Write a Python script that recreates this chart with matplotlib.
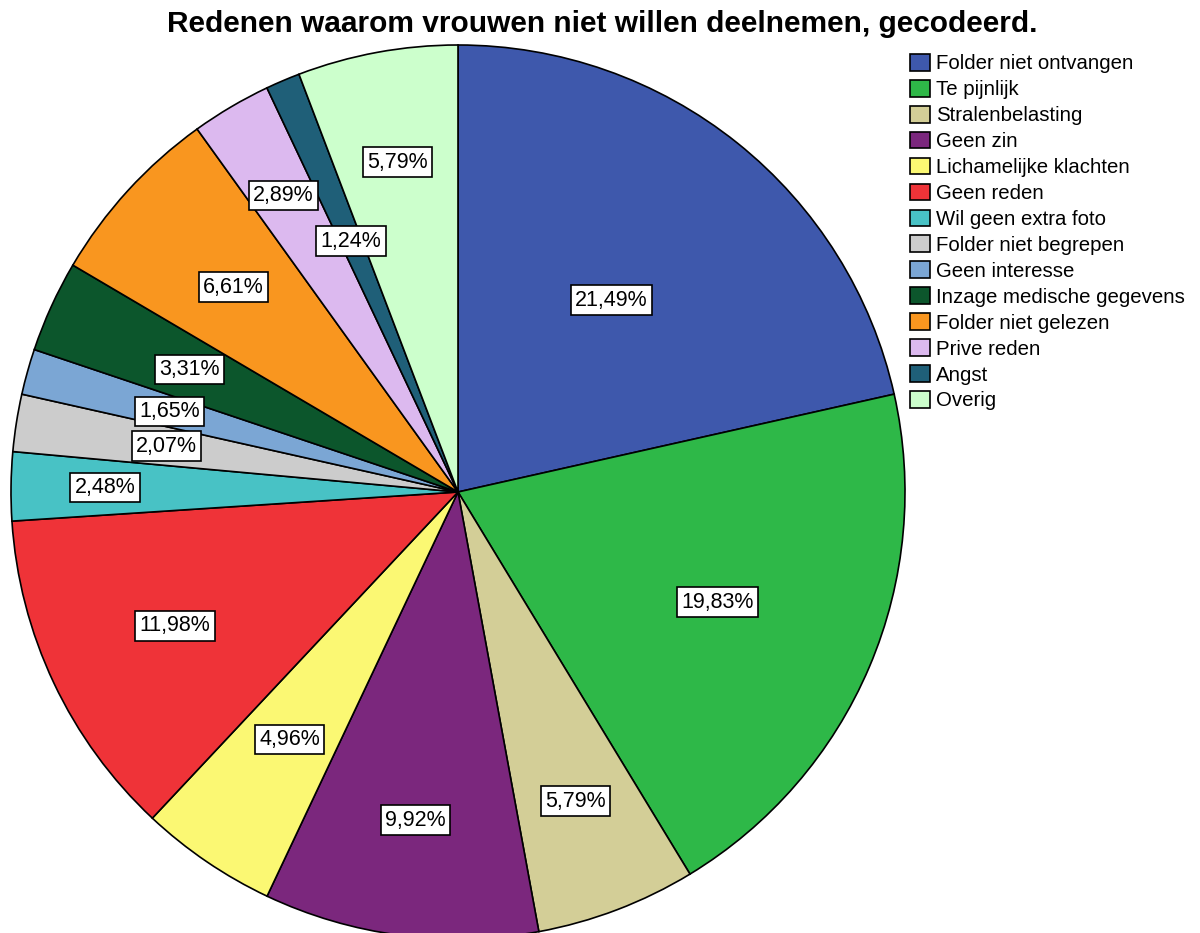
import matplotlib
matplotlib.use("Agg")
import matplotlib.pyplot as plt
import numpy as np

plt.rcParams['font.family'] = ['Liberation Sans', 'DejaVu Sans']

categories = ["Folder niet ontvangen", "Te pijnlijk", "Stralenbelasting", "Geen zin",
              "Lichamelijke klachten", "Geen reden", "Wil geen extra foto",
              "Folder niet begrepen", "Geen interesse", "Inzage medische gegevens",
              "Folder niet gelezen", "Prive reden", "Angst", "Overig"]
percentages = [21.49, 19.83, 5.79, 9.92, 4.96, 11.98, 2.48, 2.07, 1.65, 3.31, 6.61, 2.89, 1.24, 5.79]
title = "Redenen waarom vrouwen niet willen deelnemen, gecodeerd."

colors = ["#3E58AC", "#2EB848", "#D3CE97", "#7B277D", "#FBF873", "#EF3338", "#48C2C5",
          "#CCCCCC", "#7BA6D4", "#0C562C", "#F9961F", "#DCB9EF", "#1F5F78", "#CCFFCC"]
label_radius = [0.55, 0.63, 0.74, 0.74, 0.67, 0.70, 0.79, 0.66, 0.67, 0.66, 0.68, 0.77, 0.61, 0.75]

W, H = 1200, 933
fig = plt.figure(figsize=(W / 100, H / 100), dpi=100)
cx, cy, R = 458, 492, 447
ax = fig.add_axes([(cx - R) / W, (H - cy - R) / H, 2 * R / W, 2 * R / H])

wedges, _ = ax.pie(percentages, colors=colors, startangle=90, counterclock=False,
                   radius=1.0, wedgeprops=dict(edgecolor="black", linewidth=1.2))
for w in wedges:
    w.set_clip_on(False)
ax.set_xlim(-1, 1)
ax.set_ylim(-1, 1)
ax.set_aspect("equal")
ax.axis("off")

for w, p, r in zip(wedges, percentages, label_radius):
    ang = np.deg2rad((w.theta1 + w.theta2) / 2)
    x, y = r * np.cos(ang), r * np.sin(ang)
    ax.text(x, y, f"{p:.2f}%".replace(".", ","), ha="center", va="center", fontsize=15.5,
            bbox=dict(boxstyle="square,pad=0.2", facecolor="white", edgecolor="black", linewidth=1.2))

fig.text(602 / W, 1 - 24 / H, title, ha="center", va="center", fontsize=21.5, fontweight="bold")

leg = fig.legend(wedges, categories, loc="upper left", bbox_to_anchor=(910 / W, 1 - 54 / H),
                 frameon=False, fontsize=14.7, handlelength=0.98, handleheight=0.88,
                 handletextpad=0.3, labelspacing=0.32, borderaxespad=0, borderpad=0)
for h in leg.legend_handles:
    h.set_linewidth(1.2)

fig.savefig("out.png", dpi=100)
